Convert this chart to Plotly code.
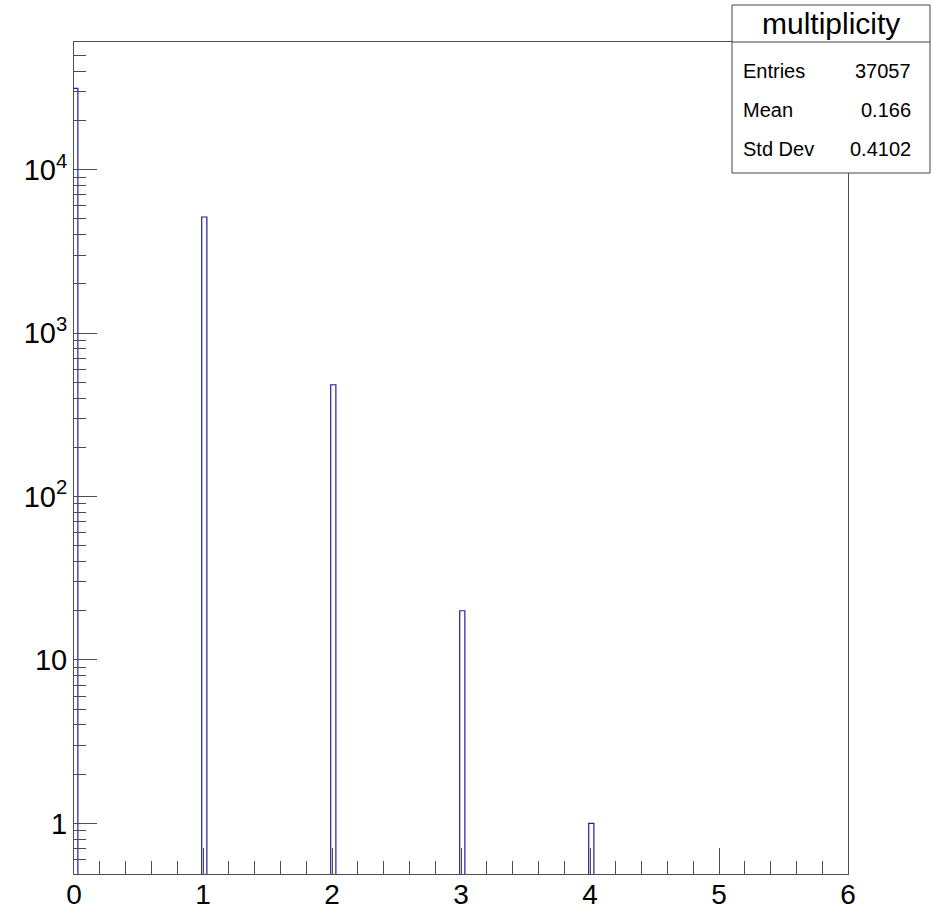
import numpy as np
import plotly.graph_objects as go

# Filled multiplicity values and their entry counts
multiplicity = [0, 1, 2, 3, 4]
counts = [31423, 5130, 483, 20, 1]

# Histogram binning
x_low, bin_width, n_bins = -0.01, 0.04, 151

# Axis ranges and tick labels
x_range = [0, 6]
y_range = [0.49, 60400]
x_tick_vals = [0, 1, 2, 3, 4, 5, 6]
x_tick_text = ["0", "1", "2", "3", "4", "5", "6"]
y_tick_vals = [1, 10, 100, 1000, 10000]
y_tick_text = ["1", "10", "10<sup>2</sup>", "10<sup>3</sup>", "10<sup>4</sup>"]
y_minor_vals = [m * 10.0 ** d for d in range(-1, 5) for m in range(2, 10)
                if 0.5 < m * 10.0 ** d < 55000]

FONT = "Liberation Sans, Arial, Helvetica, sans-serif"
LINE_BLUE = "rgb(30,30,165)"
AXIS_GREY = "#4d4d4d"

# Bin contents and step outline (empty bins drop below the visible range)
edges = x_low + bin_width * np.arange(n_bins + 1)
content, _ = np.histogram(multiplicity, bins=edges, weights=counts)
step_y = np.where(content > 0, content, 1e-3)
step_x = edges
step_y = np.append(step_y, step_y[-1])

# Statistics for the info box
vals = np.array(multiplicity, dtype=float)
w = np.array(counts, dtype=float)
entries = int(w.sum())
mean = float((vals * w).sum() / w.sum())
std = float(np.sqrt((vals ** 2 * w).sum() / w.sum() - mean ** 2))

fig = go.Figure()
fig.add_trace(go.Scatter(
    x=step_x, y=step_y, mode="lines", line_shape="hv",
    line=dict(color=LINE_BLUE, width=1.2), hoverinfo="skip", showlegend=False,
))

W, H = 932, 912
L, R, T, B = 74, 848, 42, 874


def px(xp):
    return (xp - L) / (R - L)


def py(yp):
    return (B - yp) / (B - T)


fig.update_layout(
    width=W, height=H,
    margin=dict(l=L, r=W - R, t=T, b=H - B, pad=0, autoexpand=False),
    paper_bgcolor="white", plot_bgcolor="white",
    font=dict(family=FONT, color="black"),
    showlegend=False,
)

fig.update_xaxes(
    range=x_range, showgrid=False, zeroline=False, automargin=False,
    showline=True, linecolor=AXIS_GREY, linewidth=1, mirror=True,
    ticks="inside", ticklen=26, tickwidth=1, tickcolor=AXIS_GREY,
    tickvals=x_tick_vals, ticktext=x_tick_text, ticklabelstandoff=-5,
    tickfont=dict(size=28, family=FONT, color="black"),
    minor=dict(ticks="inside", ticklen=13, tickwidth=1, tickcolor=AXIS_GREY,
               dtick=0.2, tick0=0, showgrid=False),
)
fig.update_yaxes(
    type="log", range=[np.log10(y_range[0]), np.log10(y_range[1])],
    showgrid=False, zeroline=False, automargin=False,
    showline=True, linecolor=AXIS_GREY, linewidth=1, mirror=True,
    ticks="inside", ticklen=23, tickwidth=1, tickcolor=AXIS_GREY,
    tickvals=y_tick_vals, ticktext=y_tick_text,
    tickfont=dict(size=29, family=FONT, color="black"),
    minor=dict(ticks="inside", ticklen=12, tickwidth=1, tickcolor=AXIS_GREY,
               tickvals=y_minor_vals, showgrid=False),
)

# Statistics box
bx0, bx1, by0, by1, bsep = 732, 930, 173, 5, 42
fig.add_shape(type="rect", xref="paper", yref="paper",
              x0=px(bx0), x1=px(bx1), y0=py(by0), y1=py(by1),
              fillcolor="white", line=dict(color="#444444", width=1), layer="above")
fig.add_shape(type="line", xref="paper", yref="paper",
              x0=px(bx0), x1=px(bx1), y0=py(bsep), y1=py(bsep),
              line=dict(color="#444444", width=1), layer="above")

fig.add_annotation(xref="paper", yref="paper", x=px((bx0 + bx1) / 2), y=py(24),
                   text="multiplicity", showarrow=False, xanchor="center", yanchor="middle",
                   font=dict(size=30, family=FONT, color="black"))

rows = [("Entries", f"{entries}", 71.5),
        ("Mean", f"{mean:.3f}", 110),
        ("Std Dev", f"{std:.4f}", 148.5)]
for label, value, yc in rows:
    fig.add_annotation(xref="paper", yref="paper", x=px(741), y=py(yc), text=label,
                       showarrow=False, xanchor="left", yanchor="middle",
                       font=dict(size=20, family=FONT, color="black"))
    fig.add_annotation(xref="paper", yref="paper", x=px(913), y=py(yc), text=value,
                       showarrow=False, xanchor="right", yanchor="middle",
                       font=dict(size=20, family=FONT, color="black"))

fig.write_html("out.html")
